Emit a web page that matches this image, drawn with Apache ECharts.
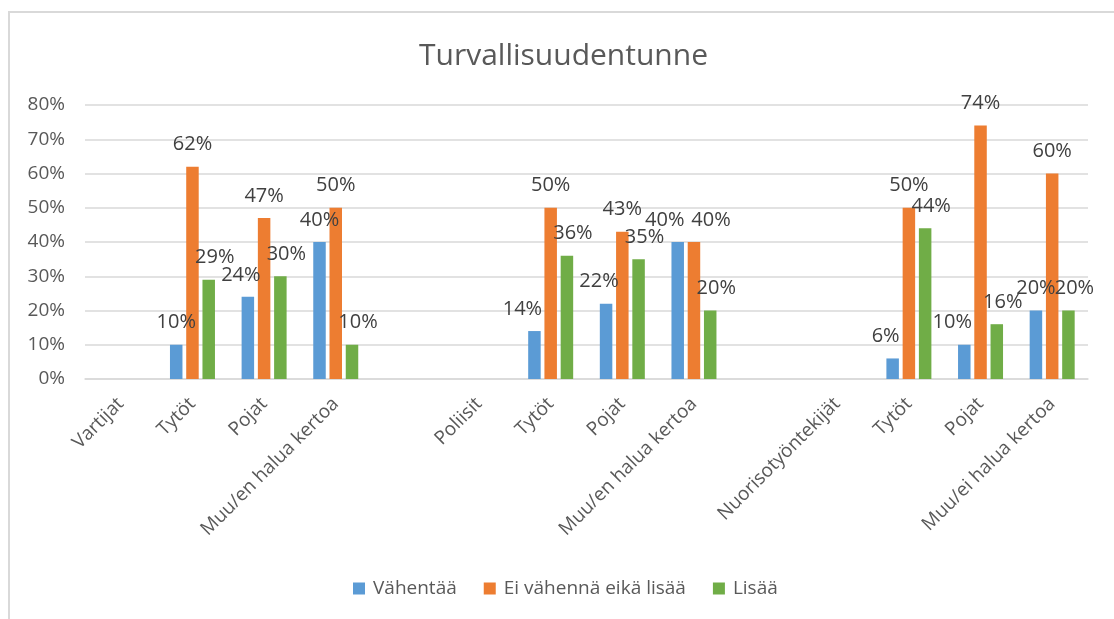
<!DOCTYPE html>
<html>
<head>
<meta charset="utf-8">
<script src="https://cdn.jsdelivr.net/npm/echarts@6/dist/echarts.min.js"></script>
<style>
  html, body { margin: 0; padding: 0; background: #fff; }
  #frame { position: absolute; left: 8px; top: 11px; right: -4px; bottom: -4px; border-top: 2px solid #d9d9d9; border-left: 2px solid #d9d9d9; }
  #chart { position: absolute; left: 0; top: 0; width: 1114px; height: 619px; }
</style>
</head>
<body>
<div id="frame"></div>
<div id="chart"></div>
<script>
const title = 'Turvallisuudentunne';
const categories = ['Vartijat', 'Tytöt', 'Pojat', 'Muu/en halua kertoa', '', 'Poliisit', 'Tytöt', 'Pojat', 'Muu/en halua kertoa', '', 'Nuorisotyöntekijät', 'Tytöt', 'Pojat', 'Muu/ei halua kertoa'];
const seriesNames = ['Vähentää', 'Ei vähennä eikä lisää', 'Lisää'];
const vahentaa = [null, 10, 24, 40, null, null, 14, 22, 40, null, null, 6, 10, 20];
const eiVahenna = [null, 62, 47, 50, null, null, 50, 43, 40, null, null, 50, 74, 60];
const lisaa = [null, 29, 30, 10, null, null, 36, 35, 20, null, null, 44, 16, 20];
const yTicks = [0, 10, 20, 30, 40, 50, 60, 70, 80];
const colors = ['#5B9BD5', '#ED7D31', '#70AD47'];

// label horizontal nudges (style only), as in the original where labels were shifted to reduce overlap
const labelShift = [-7, 0, 6];
const labelShiftOverride = { '0-1': 0, '0-3': 0, '0-8': -13, '1-8': 17, '0-13': 0, '0-6': -12, '0-12': -12 };

const FONT = 'Open Sans';
const chart = echarts.init(document.getElementById('chart'), null, { renderer: 'canvas' });

function makeSeries(si, values) {
  return {
    name: seriesNames[si],
    type: 'bar',
    data: values.map((v, i) => {
      const key = si + '-' + i;
      const dx = key in labelShiftOverride ? labelShiftOverride[key] : labelShift[si];
      return { value: v === null ? '-' : v, label: { offset: [dx, 0] } };
    }),
    barWidth: 12.5,
    barGap: '30%',
    itemStyle: { color: colors[si] },
    label: {
      show: true,
      position: 'top',
      distance: 12,
      formatter: p => p.value + '%',
      color: '#404040',
      fontFamily: FONT,
      fontSize: 20
    }
  };
}

chart.setOption({
  animation: false,
  backgroundColor: 'transparent',
  color: colors,
  title: {
    text: title,
    left: 414,
    top: 36,
    textStyle: { fontFamily: FONT, fontSize: 30, fontWeight: 'normal', color: '#595959' }
  },
  legend: {
    data: seriesNames,
    left: 348,
    bottom: 16,
    itemWidth: 12,
    itemHeight: 12,
    itemGap: 27,
    icon: 'rect',
    textStyle: { fontFamily: FONT, fontSize: 19, color: '#595959', padding: [0, 0, 0, 3] }
  },
  grid: { left: 85, right: 26, top: 105, bottom: 240, containLabel: false },
  xAxis: {
    type: 'category',
    data: categories,
    axisLine: { show: true, lineStyle: { color: '#d9d9d9', width: 1.5 } },
    axisTick: { show: false },
    axisLabel: {
      interval: 0,
      rotate: 45,
      margin: 22,
      fontFamily: FONT,
      fontSize: 19,
      color: '#595959'
    }
  },
  yAxis: {
    type: 'value',
    min: yTicks[0],
    max: yTicks[yTicks.length - 1],
    interval: 10,
    axisLine: { show: false },
    axisTick: { show: false },
    splitLine: { lineStyle: { color: '#d9d9d9', width: 1.5 } },
    axisLabel: {
      formatter: '{value}%',
      margin: 20,
      fontFamily: FONT,
      fontSize: 19,
      color: '#595959'
    }
  },
  series: [
    makeSeries(0, vahentaa),
    makeSeries(1, eiVahenna),
    makeSeries(2, lisaa)
  ]
});
</script>
</body>
</html>
